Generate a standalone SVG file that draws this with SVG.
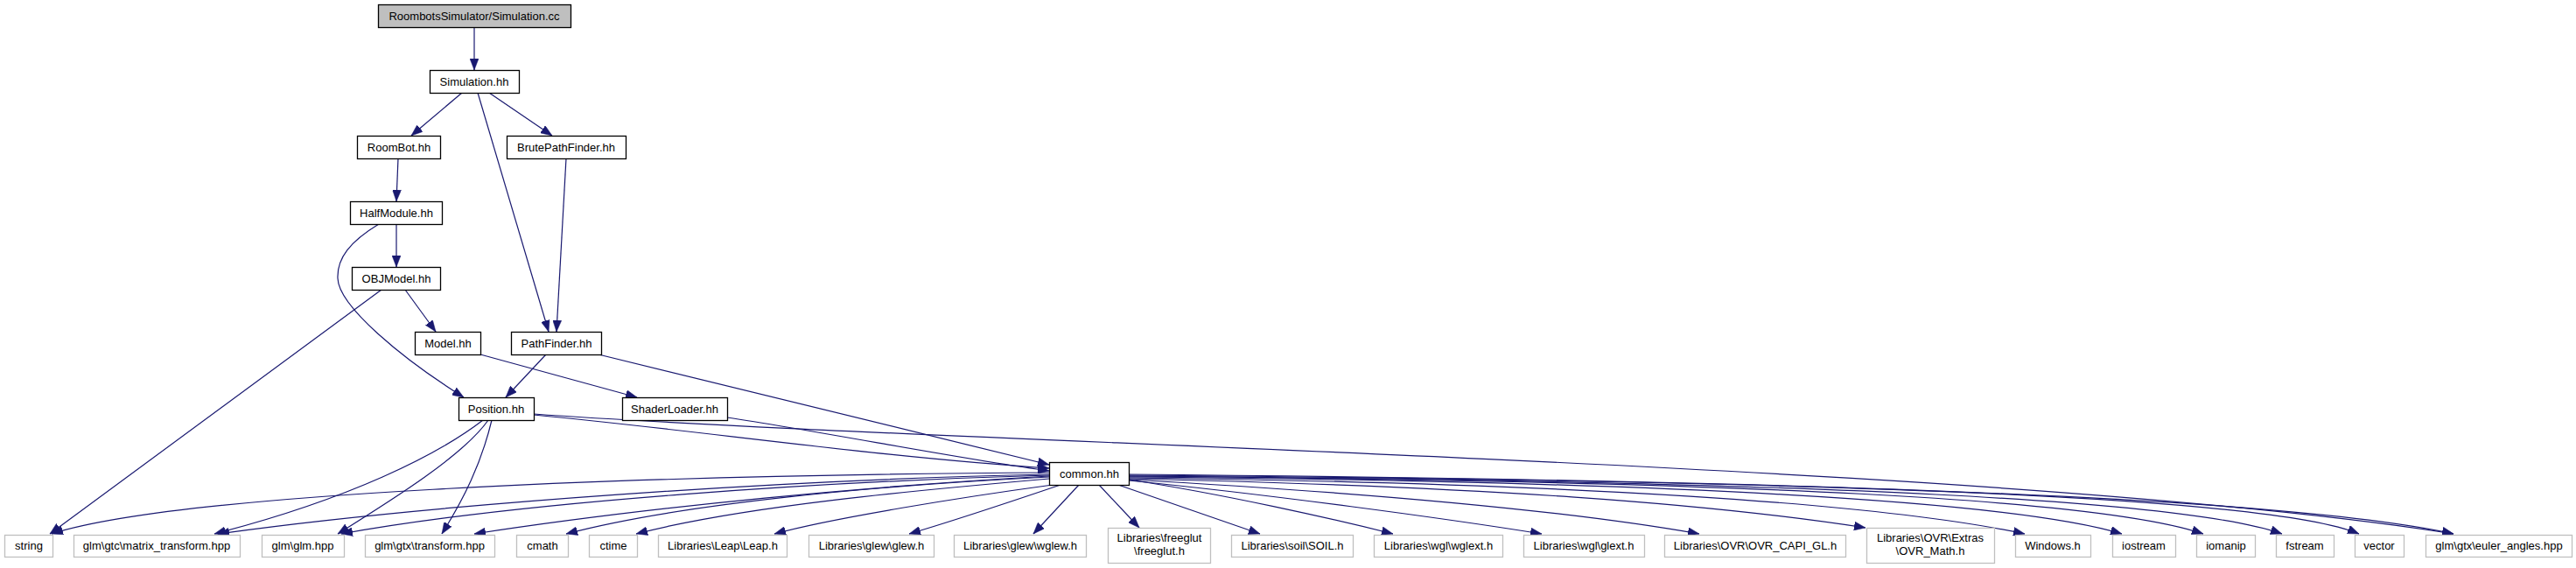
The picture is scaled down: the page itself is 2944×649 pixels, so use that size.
<svg xmlns="http://www.w3.org/2000/svg" width="2944" height="649" viewBox="0 0 2944 649">
<style>
.n rect{fill:#ffffff;stroke:#000000;stroke-width:1.3}
.x rect{fill:#ffffff;stroke:#bfbfbf;stroke-width:1.3}
.root rect{fill:#bfbfbf}
text{font-family:"Liberation Sans",Arial,sans-serif;font-size:13px;fill:#000000;text-anchor:middle}
#edges path{fill:none;stroke:#191970;stroke-width:1.2;marker-end:url(#arr)}
</style>
<defs>
<marker id="arr" viewBox="0 0 13 10" refX="13" refY="5" markerWidth="13" markerHeight="10" markerUnits="userSpaceOnUse" orient="auto">
<path d="M0,0 L13,5 L0,10 z" fill="#191970" stroke="#191970" stroke-width="0.5"/>
</marker>
</defs>
<rect width="2944" height="649" fill="#ffffff"/>
<g id="edges">
<path d="M542,31 L542,80"/>
<path d="M528,106 L470,155"/>
<path d="M559,106 L631,155"/>
<path d="M546,106 L627,379"/>
<path d="M455,181 L453,230"/>
<path d="M453,256 L453,305"/>
<path d="M433,256 C400,276 385,295 386,318 C387,350 460,410 530,454"/>
<path d="M463,331 L498,379"/>
<path d="M436,331 L57,610"/>
<path d="M647,181 L636,379"/>
<path d="M549,405 L728,454"/>
<path d="M624,405 L578,454"/>
<path d="M684,405 L1199,531"/>
<path d="M610,474 C800,492 1000,522 1199,535"/>
<path d="M831,477 C950,495 1100,525 1199,538"/>
<path d="M552,480 C500,520 400,570 245,610"/>
<path d="M558,480 C530,520 450,570 386,610"/>
<path d="M562,480 C550,530 530,570 505,610"/>
<path d="M610,473 C1100,508 2300,530 2804,610"/>
<path d="M1199,540 C700,543 200,565 59,610"/>
<path d="M1199,542 C900,548 500,575 249,610"/>
<path d="M1199,543 C950,550 600,572 390,610"/>
<path d="M1199,544 C1000,555 750,578 542,610"/>
<path d="M1199,545 C1000,555 780,575 647,610"/>
<path d="M1199,547 C1050,560 850,578 727,610"/>
<path d="M1203,554 C1100,568 950,592 885,610"/>
<path d="M1212,554 C1150,575 1090,595 1039,610"/>
<path d="M1233,554 L1181,610"/>
<path d="M1256,554 L1302,603"/>
<path d="M1278,554 L1440,610"/>
<path d="M1290,548 C1400,565 1520,592 1592,610"/>
<path d="M1290,549 C1450,565 1650,592 1762,610"/>
<path d="M1290,548 C1600,565 1800,585 1942,610"/>
<path d="M1290,547 C1700,556 1950,575 2132,603"/>
<path d="M1290,546 C1800,552 2150,575 2314,610"/>
<path d="M1290,545 C1900,550 2300,572 2425,610"/>
<path d="M1290,544 C2000,550 2400,570 2518,610"/>
<path d="M1290,544 C2100,550 2500,572 2608,610"/>
<path d="M1290,543 C2150,550 2600,570 2696,610"/>
<path d="M1290,542 C2200,550 2650,575 2804,610"/>
</g>
<g id="node-simulation-cc" class="n root"><rect x="432.5" y="5.5" width="220" height="26"/><text x="542" y="23">RoombotsSimulator/Simulation.cc</text></g>
<g id="node-simulation-hh" class="n"><rect x="491.5" y="80.5" width="102" height="26"/><text x="542" y="98">Simulation.hh</text></g>
<g id="node-roombot" class="n"><rect x="408.5" y="155.5" width="95" height="26"/><text x="456" y="173">RoomBot.hh</text></g>
<g id="node-brutepathfinder" class="n"><rect x="579.5" y="155.5" width="136" height="26"/><text x="647" y="173">BrutePathFinder.hh</text></g>
<g id="node-halfmodule" class="n"><rect x="400.5" y="230.5" width="105" height="26"/><text x="453" y="248">HalfModule.hh</text></g>
<g id="node-objmodel" class="n"><rect x="402.5" y="305.5" width="101" height="26"/><text x="453" y="323">OBJModel.hh</text></g>
<g id="node-model" class="n"><rect x="474.5" y="379.5" width="75" height="26"/><text x="512" y="397">Model.hh</text></g>
<g id="node-pathfinder" class="n"><rect x="584.5" y="379.5" width="103" height="26"/><text x="636" y="397">PathFinder.hh</text></g>
<g id="node-position" class="n"><rect x="524.5" y="454.5" width="86" height="26"/><text x="567" y="472">Position.hh</text></g>
<g id="node-shaderloader" class="n"><rect x="711.5" y="454.5" width="120" height="26"/><text x="771" y="472">ShaderLoader.hh</text></g>
<g id="node-common" class="n"><rect x="1199.5" y="528.5" width="91" height="26"/><text x="1245" y="546">common.hh</text></g>
<g id="node-string" class="x"><rect x="5.5" y="611.5" width="55" height="25"/><text x="33" y="628">string</text></g>
<g id="node-matrix-transform" class="x"><rect x="84.5" y="611.5" width="190" height="25"/><text x="179" y="628">glm\gtc\matrix_transform.hpp</text></g>
<g id="node-glm" class="x"><rect x="299.5" y="611.5" width="94" height="25"/><text x="346" y="628">glm\glm.hpp</text></g>
<g id="node-gtx-transform" class="x"><rect x="417.5" y="611.5" width="148" height="25"/><text x="491" y="628">glm\gtx\transform.hpp</text></g>
<g id="node-cmath" class="x"><rect x="590.5" y="611.5" width="59" height="25"/><text x="620" y="628">cmath</text></g>
<g id="node-ctime" class="x"><rect x="673.5" y="611.5" width="55" height="25"/><text x="701" y="628">ctime</text></g>
<g id="node-leap" class="x"><rect x="752.5" y="611.5" width="147" height="25"/><text x="826" y="628">Libraries\Leap\Leap.h</text></g>
<g id="node-glew" class="x"><rect x="924.5" y="611.5" width="143" height="25"/><text x="996" y="628">Libraries\glew\glew.h</text></g>
<g id="node-wglew" class="x"><rect x="1090.5" y="611.5" width="151" height="25"/><text x="1166" y="628">Libraries\glew\wglew.h</text></g>
<g id="node-freeglut" class="x"><rect x="1266.5" y="603.5" width="117" height="40"/><text x="1325" y="619">Libraries\freeglut</text><text x="1325" y="634">\freeglut.h</text></g>
<g id="node-soil" class="x"><rect x="1407.5" y="611.5" width="139" height="25"/><text x="1477" y="628">Libraries\soil\SOIL.h</text></g>
<g id="node-wglext" class="x"><rect x="1570.5" y="611.5" width="147" height="25"/><text x="1644" y="628">Libraries\wgl\wglext.h</text></g>
<g id="node-glext" class="x"><rect x="1741.5" y="611.5" width="138" height="25"/><text x="1810" y="628">Libraries\wgl\glext.h</text></g>
<g id="node-ovr-capi-gl" class="x"><rect x="1902.5" y="611.5" width="207" height="25"/><text x="2006" y="628">Libraries\OVR\OVR_CAPI_GL.h</text></g>
<g id="node-ovr-math" class="x"><rect x="2133.5" y="603.5" width="146" height="40"/><text x="2206" y="619">Libraries\OVR\Extras</text><text x="2206" y="634">\OVR_Math.h</text></g>
<g id="node-windows" class="x"><rect x="2303.5" y="611.5" width="86" height="25"/><text x="2346" y="628">Windows.h</text></g>
<g id="node-iostream" class="x"><rect x="2414.5" y="611.5" width="72" height="25"/><text x="2450" y="628">iostream</text></g>
<g id="node-iomanip" class="x"><rect x="2510.5" y="611.5" width="67" height="25"/><text x="2544" y="628">iomanip</text></g>
<g id="node-fstream" class="x"><rect x="2601.5" y="611.5" width="66" height="25"/><text x="2634" y="628">fstream</text></g>
<g id="node-vector" class="x"><rect x="2691.5" y="611.5" width="56" height="25"/><text x="2719" y="628">vector</text></g>
<g id="node-euler-angles" class="x"><rect x="2772.5" y="611.5" width="167" height="25"/><text x="2856" y="628">glm\gtx\euler_angles.hpp</text></g>
</svg>
